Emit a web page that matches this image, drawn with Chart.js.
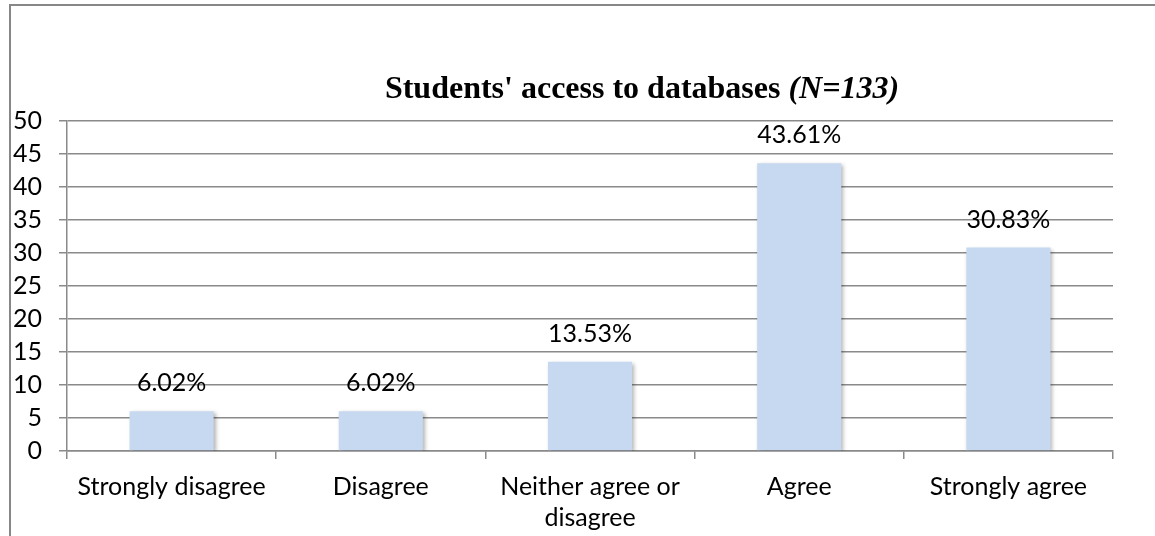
<!DOCTYPE html>
<html>
<head>
<meta charset="utf-8">
<script src="https://cdn.jsdelivr.net/npm/chart.js@4.4.1/dist/chart.umd.min.js"></script>
<style>
  html, body { margin: 0; padding: 0; background: #fff; }
  #wrap { position: relative; width: 1155px; height: 536px; overflow: hidden; }
  #frame { position: absolute; left: 9px; top: 4px; width: 1300px; height: 700px;
           border-left: 2px solid #878787; border-top: 2px solid #878787; }
  canvas { position: absolute; left: 0; top: 0; }
</style>
</head>
<body>
<div id="wrap">
  <div id="frame"></div>
  <canvas id="c" width="1155" height="536"></canvas>
</div>
<script>
const categories = ["Strongly disagree", "Disagree", ["Neither agree or", "disagree"], "Agree", "Strongly agree"];
const values = [6.02, 6.02, 13.53, 43.61, 30.83];
const yTicks = [0, 5, 10, 15, 20, 25, 30, 35, 40, 45, 50];
const titleMain = "Students' access to databases ";
const titleItalic = "(N=133)";

const AXIS_FONT = "Lato";
const GRID = "#8a8a8a";

const overlay = {
  id: 'overlay',
  beforeDatasetsDraw(chart) {
    const ctx = chart.ctx;
    ctx.save();
    ctx.shadowColor = 'rgba(0,0,0,0.30)';
    ctx.shadowBlur = 4;
    ctx.shadowOffsetX = 2;
    ctx.shadowOffsetY = 2;
  },
  afterDatasetsDraw(chart) {
    const ctx = chart.ctx;
    ctx.restore();
    ctx.save();
    ctx.font = "25px " + AXIS_FONT;
    ctx.fillStyle = "#000";
    ctx.textAlign = "center";
    ctx.textBaseline = "alphabetic";
    const meta = chart.getDatasetMeta(0);
    meta.data.forEach((bar, i) => {
      ctx.fillText(values[i].toFixed(2) + "%", bar.x, bar.y - 20);
    });
    ctx.restore();
  },
  afterDraw(chart) {
    const ctx = chart.ctx;
    ctx.save();
    ctx.fillStyle = "#000";
    ctx.textBaseline = "alphabetic";
    const f1 = "bold 32px 'Liberation Serif'";
    const f2 = "italic bold 32px 'Liberation Serif'";
    ctx.font = f1;
    const w1 = ctx.measureText(titleMain).width;
    ctx.font = f2;
    const w2 = ctx.measureText(titleItalic).width;
    const cx = 642;
    const x0 = cx - (w1 + w2) / 2;
    ctx.textAlign = "left";
    ctx.font = f1;
    ctx.fillText(titleMain, x0, 98);
    ctx.font = f2;
    ctx.fillText(titleItalic, x0 + w1, 98);
    ctx.restore();
  }
};

new Chart(document.getElementById('c'), {
  type: 'bar',
  data: {
    labels: categories,
    datasets: [{
      data: values,
      backgroundColor: '#c6d9f1',
      borderWidth: 0,
      barPercentage: 0.402,
      categoryPercentage: 1.0
    }]
  },
  options: {
    responsive: false,
    animation: false,
    devicePixelRatio: 1,
    layout: { padding: { top: 121, right: 42, left: 0, bottom: 0 } },
    plugins: { legend: { display: false }, title: { display: false }, tooltip: { enabled: false } },
    scales: {
      y: {
        min: 0, max: 50,
        afterBuildTicks(scale) { scale.ticks = yTicks.map(v => ({ value: v })); },
        afterFit(scale) { scale.width = 67; },
        ticks: { color: '#000', font: { family: AXIS_FONT, size: 25 }, padding: 17 },
        grid: { color: GRID, lineWidth: 1.5, tickLength: 8 },
        border: { color: GRID, width: 1.5 }
      },
      x: {
        afterFit(scale) { scale.height = 85; },
        ticks: { color: '#000', font: { family: AXIS_FONT, size: 25, lineHeight: 1.22 }, padding: 13, maxRotation: 0, autoSkip: false },
        grid: { drawOnChartArea: false, color: GRID, lineWidth: 1.5, tickLength: 8, offset: true },
        border: { color: GRID, width: 1.5 }
      }
    }
  },
  plugins: [overlay]
});
</script>
</body>
</html>
